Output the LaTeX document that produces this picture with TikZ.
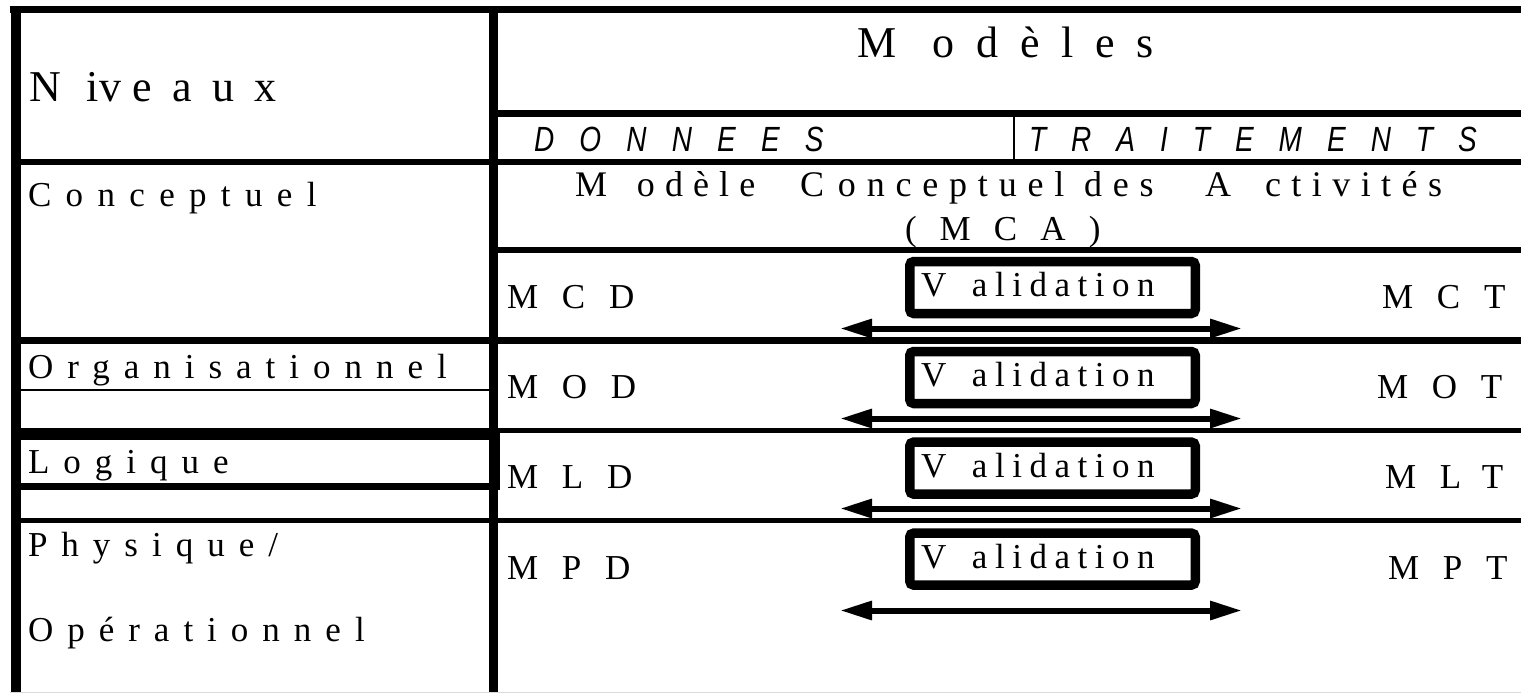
\documentclass[tikz,border=0pt]{standalone}
\usepackage{fontspec}
\setmainfont{Liberation Serif}
\newfontfamily\hdsans{Liberation Sans}[FakeStretch=0.8]
\usetikzlibrary{arrows.meta}
\newcommand\fs[2]{\fontsize{#1}{#1}\selectfont\addfontfeatures{LetterSpace=#2}}
% place a chunk of text at an offset (pt) from the node origin, with its own letter spacing
\newcommand\gl[3]{\rlap{\hspace*{#1pt}\addfontfeatures{LetterSpace=#2}#3}}
\tikzset{
  gline/.style={draw=black, line width=#1},
  lbl/.style={anchor=base west, inner sep=0pt, outer sep=0pt},
  vbox/.style={draw=black, line width=9.5pt, rounded corners=4pt, minimum width=285.5pt, minimum height=52pt, inner sep=0pt},
  dblarrow/.style={draw=black, line width=6pt, {Triangle[length=32pt,width=18pt]}-{Triangle[length=32pt,width=18pt]}},
}
\begin{document}
\begin{tikzpicture}[x=1pt,y=-1pt]
\fill[white] (0,0) rectangle (1521,693);
\useasboundingbox (0,0) rectangle (1521,693);
% grid
\draw[gline=7pt] (10,9.5) -- (1521,9.5);
\draw[gline=10pt] (15.5,6) -- (15.5,693);
\draw[gline=9pt] (493.5,6) -- (493.5,693);
\draw[gline=7pt] (498,113.5) -- (1521,113.5);
\draw[gline=2pt] (1014,117) -- (1014,164);
\draw[gline=6pt] (20,162) -- (1521,162);
\draw[gline=6pt] (498,250) -- (1521,250);
\draw[gline=7pt] (20,340.5) -- (1521,340.5);
\draw[gline=2pt] (20,390) -- (489,390);
\draw[gline=12pt] (20,434) -- (500,434);
\draw[gline=5pt] (489,430.5) -- (1521,430.5);
\draw[gline=7pt] (20,486.5) -- (500,486.5);
\draw[gline=2pt] (499,435) -- (499,490);
\draw[gline=5pt] (20,520.5) -- (1521,520.5);
\draw[black!15, line width=1pt] (10,692.5) -- (1521,692.5);
% headers
\node[lbl] (niv) at (29,101.7) {\fs{44}{0}\gl{0}{0}{N}\gl{58}{0}{iv}\gl{104}{46}{eaux}\hspace*{250pt}};
\node[lbl] (mod) at (857,58) {\fs{44}{0}\gl{0}{0}{M}\gl{76}{49}{odèles}\hspace*{296pt}};
\node[lbl] (don) at (534,151.7) {\hdsans\itshape\fs{35}{72}DONNEES};
\node[lbl] (tra) at (1029,151.7) {\hdsans\itshape\fs{35}{71.5}TRAITEMENTS};
% left column
\node[lbl] (con) at (28,206) {\fs{35}{41}Conceptuel};
\node[lbl] (org) at (28,378.3) {\fs{35}{40}Organisationnel};
\node[lbl] (log) at (28,473.3) {\fs{35}{40}Logique};
\node[lbl] (phy) at (28,556.7) {\fs{35}{40}Physique/};
\node[lbl] (ope) at (28,641.7) {\fs{35}{40}Opérationnel};
% MCA
\node[lbl] (mca1) at (575,196.7) {\fs{36}{0}\gl{0}{0}{M}\gl{62}{28}{odèle}\gl{225}{0}{C}\gl{263}{30}{onceptuel des}\gl{630}{0}{A}\gl{690}{29}{ctivités}\hspace*{868pt}};
\node[lbl] (mca2) at (905,240) {\fs{35}{66}(MCA)};
% rows
\foreach \n/\y/\d/\t/\tx in {1/0/MCD/MCT/1382, 2/90/MOD/MOT/1377, 3/180.6/MLD/MLT/1385, 4/271.6/MPD/MPT/1388}{
  \node[vbox] (v\n) at (1052.5,287.5+\y) {};
  \node[lbl] (vt\n) at (921,296.7+\y) {\fs{35}{0}\gl{0}{0}{V}\gl{51}{21.5}{alidation}\hspace*{235pt}};
  \node[lbl] (d\n) at (507,308.3+\y) {\fs{35}{68}\d};
  \node[lbl] (t\n) at (\tx,308.3+\y) {\fs{35}{68}\t};
}
\coordinate (a1l) at (840,328.5); \coordinate (a1r) at (1242,328.5);
\coordinate (a2l) at (840,418.5); \coordinate (a2r) at (1242,418.5);
\coordinate (a3l) at (840,508.5); \coordinate (a3r) at (1242,508.5);
\coordinate (a4l) at (840,610.5); \coordinate (a4r) at (1242,610.5);
\draw[dblarrow] (a1l) -- (a1r);
\draw[dblarrow] (a2l) -- (a2r);
\draw[dblarrow] (a3l) -- (a3r);
\draw[dblarrow] (a4l) -- (a4r);
\end{tikzpicture}
\end{document}
